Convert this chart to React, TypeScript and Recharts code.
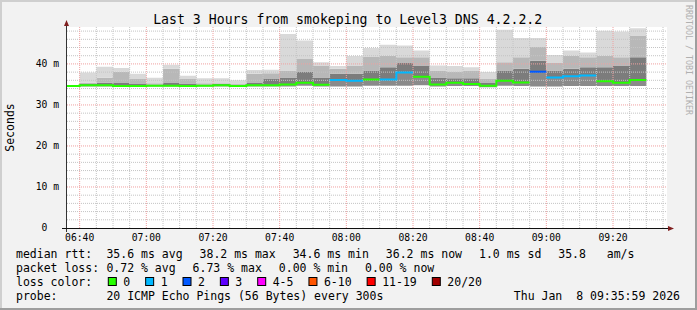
import React from 'react'
import { ComposedChart, Area, Line, XAxis, YAxis, ReferenceLine, CartesianGrid } from 'recharts'

const MONO = '"DejaVu Sans Mono", monospace'
const STEP = 5 // minutes per smokeping step

// start of each 5-minute step, minutes after midnight (06:35 ... 09:25)
const stepStart = [
  395, 400, 405, 410, 415, 420, 425, 430, 435, 440, 445, 450, 455, 460, 465, 470, 475, 480,
  485, 490, 495, 500, 505, 510, 515, 520, 525, 530, 535, 540, 545, 550, 555, 560, 565,
]

// median rtt per step (ms)
const medianRtt = [
  34.6, 34.8, 34.8, 34.6, 34.6, 34.7, 34.7, 34.6, 34.7, 34.8, 34.6, 34.8, 34.8, 35.0, 35.4, 34.9, 36.1, 35.9,
  36.2, 36.2, 37.9, 36.9, 35.0, 35.4, 35.1, 34.7, 35.9, 35.5, 38.1, 36.7, 37.0, 37.2, 35.8, 35.4, 36.1,
]

// lost pings per step (out of 20)
const lostPings = [
  0, 0, 0, 0, 0, 0, 0, 0, 0, 0, 0, 0, 0, 0, 0, 0, 1, 1,
  0, 1, 1, 0, 0, 0, 0, 0, 0, 0, 2, 1, 1, 1, 0, 0, 0,
]

// smoke: fastest ping, top of dark band, top of mid band, slowest ping (ms)
const smokeMin = [
  34.6, 34.5, 34.5, 34.4, 34.4, 34.5, 34.5, 34.4, 34.5, 34.5, 34.4, 34.5, 34.5, 34.5, 34.7, 34.5, 34.5, 34.5,
  34.7, 34.7, 34.7, 34.8, 34.5, 34.6, 34.6, 34.3, 34.7, 34.6, 34.5, 34.5, 34.6, 34.6, 34.6, 34.6, 34.6,
]
const smokeDark = [
  34.6, 35.1, 35.4, 35.5, 35.1, 35.0, 35.5, 35.2, 35.0, 35.1, 34.9, 35.5, 36.3, 36.7, 38.0, 36.7, 37.6, 37.6,
  38.4, 39.2, 40.2, 39.6, 36.7, 36.5, 36.5, 35.5, 38.4, 38.8, 40.8, 38.4, 38.8, 39.2, 39.2, 39.6, 41.6,
]
const smokeMid = [
  34.6, 35.4, 36.6, 38.1, 36.3, 35.3, 38.8, 36.3, 35.3, 35.3, 35.2, 37.6, 37.7, 38.4, 41.2, 39.6, 38.8, 39.6,
  41.8, 42.0, 41.6, 41.6, 38.4, 38.0, 38.4, 36.3, 40.4, 41.6, 44.1, 40.2, 42.0, 41.6, 42.0, 41.6, 46.9,
]
const smokeMax = [
  34.6, 37.9, 39.3, 39.0, 37.6, 36.6, 39.8, 37.1, 36.5, 36.5, 36.0, 38.5, 38.6, 47.3, 45.7, 40.4, 39.5, 41.9,
  43.9, 44.7, 44.5, 43.3, 39.6, 39.5, 39.2, 38.0, 48.3, 46.3, 46.3, 42.2, 43.3, 42.8, 48.1, 47.9, 48.7,
]

const lossLabels = ['0', '1', '2', '3', '4-5', '6-10', '11-19', '20/20']
const lossColors = ['#26ff00', '#00b8ff', '#0059ff', '#5e00ff', '#ff00ff', '#ff5500', '#ff0000', '#a10000']
const lossUpper = [0, 1, 2, 3, 5, 10, 19, 20]

const xTicks = [400, 420, 440, 460, 480, 500, 520, 540, 560]
const yTicks = [0, 10, 20, 30, 40]

const medianLine = ['median rtt:', '35.6 ms avg', '38.2 ms max', '34.6 ms min', '36.2 ms now', '1.0 ms sd', '35.8   am/s']
const lossLine = ['packet loss:', '0.72 % avg', '6.73 % max', '0.00 % min', '0.00 % now']
const probeText = '20 ICMP Echo Pings (56 Bytes) every 300s'
const stampText = 'Thu Jan  8 09:35:59 2026'

const bucket = (n: number) => lossUpper.findIndex((u) => n <= u)
const keep = (s: string) => s.replace(/ /g, '\u00a0')

const rows = stepStart.flatMap((t, i) => {
  const r: Record<string, number | null> = {
    lo: smokeMin[i],
    b1: medianRtt[i] - smokeMin[i],
    b2: smokeDark[i] - medianRtt[i],
    b3: smokeMid[i] - smokeDark[i],
    b4: smokeMax[i] - smokeMid[i],
  }
  lossColors.forEach((_, k) => {
    r['m' + k] = bucket(lostPings[i]) === k ? medianRtt[i] : null
  })
  return [{ t, ...r }, { t: t + STEP, ...r }]
})

const minorX: number[] = []
for (let m = 400; m < 577; m += 5) if (m % 20 !== 0) minorX.push(m)
const minorY: number[] = []
for (let v = 2; v < 49; v += 2) if (v % 10 !== 0) minorY.push(v)

const hhmm = (m: number) => `${String(Math.floor(m / 60)).padStart(2, '0')}:${String(m % 60).padStart(2, '0')}`

const YTick = ({ x, y, payload }: any) => (
  <text x={x} y={y} dy="0.355em" textAnchor="end" fontFamily={MONO} fontSize={9.7} fill="#000">
    {payload.value === 0 ? '0\u00a0\u00a0' : `${payload.value}\u00a0m`}
  </text>
)

const CW = 6.95 // legend char width
const GAP = 16.7

function Row({ y, label, items }: { y: number; label: string; items: string[] }) {
  let x = 106.4
  return (
    <g>
      <text x={16} y={y}>{keep(label)}</text>
      {items.map((s, i) => {
        const el = <text key={i} x={x} y={y}>{keep(s)}</text>
        x += s.length * CW + GAP
        return el
      })}
    </g>
  )
}

function LossRow({ y }: { y: number }) {
  let x = 108.3
  return (
    <g>
      <text x={16} y={y}>{keep('loss color:')}</text>
      {lossLabels.map((s, i) => {
        const bx = x
        x = bx + 15 + s.length * CW + 15.4
        return (
          <g key={s}>
            <rect x={bx} y={277.5} width={8} height={8} fill={lossColors[i]} stroke="#000" strokeWidth={1} />
            <text x={bx + 15} y={y}>{s}</text>
          </g>
        )
      })}
    </g>
  )
}

export default function App() {
  return (
    <div style={{ position: 'relative', width: 697, height: 310, background: '#f2f2f2' }}>
      <style>{'body{margin:0}'}</style>
      <ComposedChart width={697} height={310} data={rows} margin={{ top: 27, right: 30, bottom: 62, left: 17 }}>
        <CartesianGrid horizontal={false} vertical={false} fill="#ffffff" />
        <XAxis
          dataKey="t"
          type="number"
          domain={[396.2, 576.2]}
          allowDataOverflow
          ticks={xTicks}
          interval={0}
          tickFormatter={hhmm}
          axisLine={false}
          tickLine={false}
          tickSize={6}
          tickMargin={0}
          height={20}
          tick={{ fontFamily: MONO, fontSize: 9.7, fill: '#000' }}
        />
        <YAxis
          type="number"
          domain={[0, 49]}
          allowDataOverflow
          ticks={yTicks}
          interval={0}
          axisLine={false}
          tickLine={false}
          width={50}
          tick={<YTick />}
        />
        <Area dataKey="lo" stackId="s" type="linear" stroke="none" fill="none" isAnimationActive={false} activeDot={false} />
        <Area dataKey="b1" stackId="s" type="linear" stroke="none" fill="#8a8a8a" fillOpacity={1} isAnimationActive={false} activeDot={false} />
        <Area dataKey="b2" stackId="s" type="linear" stroke="none" fill="#7c7c7c" fillOpacity={1} isAnimationActive={false} activeDot={false} />
        <Area dataKey="b3" stackId="s" type="linear" stroke="none" fill="#b8b8b8" fillOpacity={1} isAnimationActive={false} activeDot={false} />
        <Area dataKey="b4" stackId="s" type="linear" stroke="none" fill="#d9d9d9" fillOpacity={1} isAnimationActive={false} activeDot={false} />
        {minorX.map((m) => (
          <ReferenceLine key={'mx' + m} x={m} stroke="#c4c4c4" strokeDasharray="1 1" ifOverflow="hidden" />
        ))}
        {minorY.map((v) => (
          <ReferenceLine key={'my' + v} y={v} stroke="#c4c4c4" strokeDasharray="1 1" ifOverflow="hidden" />
        ))}
        {xTicks.map((m) => (
          <ReferenceLine key={'Mx' + m} x={m} stroke="#f0a0a0" strokeDasharray="1 1" />
        ))}
        {yTicks.slice(1).map((v) => (
          <ReferenceLine key={'My' + v} y={v} stroke="#f0a0a0" strokeDasharray="1 1" />
        ))}
        {lossColors.map((c, k) => (
          <Line
            key={'m' + k}
            dataKey={'m' + k}
            type="linear"
            stroke={c}
            strokeWidth={2}
            dot={false}
            activeDot={false}
            connectNulls={false}
            isAnimationActive={false}
          />
        ))}
      </ComposedChart>
      <svg width={697} height={310} style={{ position: 'absolute', left: 0, top: 0, pointerEvents: 'none' }}>
        <rect x={0} y={0} width={697} height={2} fill="#cfcfcf" />
        <rect x={0} y={0} width={2} height={310} fill="#cfcfcf" />
        <rect x={0} y={308} width={697} height={2} fill="#9e9e9e" />
        <rect x={695} y={0} width={2} height={310} fill="#9e9e9e" />
        <line x1={66.5} y1={232} x2={66.5} y2={25} stroke="#333" strokeWidth={1} />
        <line x1={62} y1={228.5} x2={669} y2={228.5} stroke="#111" strokeWidth={1} />
        <polygon points="64,26 69,26 66.5,20" fill="#801f1f" />
        <polygon points="668,226 668,231 674,228.5" fill="#801f1f" />
        <text x={347.7} y={24} textAnchor="middle" fontFamily={MONO} fontSize={13.2} fill="#000">
          Last 3 Hours from smokeping to Level3 DNS 4.2.2.2
        </text>
        <text x={13.5} y={127.5} transform="rotate(-90 13.5 127.5)" textAnchor="middle" fontFamily={MONO} fontSize={11.5} fill="#000">
          Seconds
        </text>
        <text x={688.5} y={60} transform="rotate(90 688.5 60)" textAnchor="middle" dominantBaseline="central" fontFamily={MONO} fontSize={8.3} fill="#b0b0b0">
          RRDTOOL / TOBI OETIKER
        </text>
        <g fontFamily={MONO} fontSize={11.5} fill="#000">
          <Row y={257.5} label={medianLine[0]} items={medianLine.slice(1)} />
          <Row y={271.5} label={lossLine[0]} items={lossLine.slice(1)} />
          <LossRow y={285.5} />
          <text x={16} y={299.5}>{keep('probe:')}</text>
          <text x={106.4} y={299.5}>{keep(probeText)}</text>
          <text x={680} y={299.5} textAnchor="end">{keep(stampText)}</text>
        </g>
      </svg>
    </div>
  )
}
